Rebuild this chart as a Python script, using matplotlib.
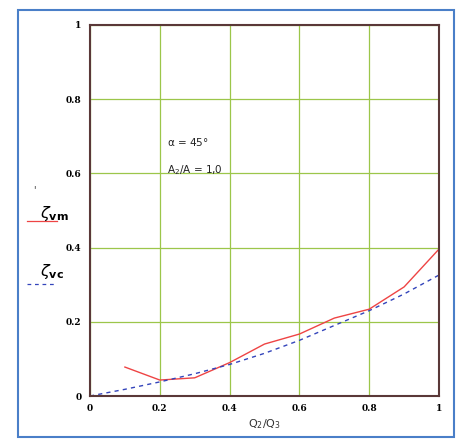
import matplotlib.pyplot as plt
from matplotlib.patches import Rectangle

# data
x_vm = [0.1, 0.2, 0.3, 0.4, 0.5, 0.6, 0.7, 0.8, 0.9, 1.0]
zeta_vm = [0.078, 0.043, 0.049, 0.09, 0.14, 0.167, 0.21, 0.234, 0.294, 0.396]
x_vc = [0.0, 0.1, 0.2, 0.3, 0.4, 0.5, 0.6, 0.7, 0.8, 0.9, 1.0]
zeta_vc = [0.0, 0.018, 0.038, 0.06, 0.085, 0.115, 0.15, 0.19, 0.23, 0.275, 0.326]
ticks = [0, 0.2, 0.4, 0.6, 0.8, 1]
tick_labels = ["0", "0.2", "0.4", "0.6", "0.8", "1"]

W, H = 459, 441
fig = plt.figure(figsize=(W / 100, H / 100), dpi=100)
ax = fig.add_axes([90 / W, 1 - 396 / H, 349 / W, 371 / H])

ax.plot(x_vm, zeta_vm, color="#ee4444", lw=1.0)
ax.plot(x_vc, zeta_vc, color="#3344bb", lw=1.0, ls=(0, (3, 3)))

ax.set_xlim(0, 1)
ax.set_ylim(0, 1)
ax.set_xticks(ticks)
ax.set_xticklabels(tick_labels)
ax.set_yticks(ticks)
ax.set_yticklabels(tick_labels)
ax.tick_params(length=0, pad=6, labelsize=6.5)
for lab in ax.get_xticklabels() + ax.get_yticklabels():
    lab.set_fontfamily("DejaVu Serif")
    lab.set_fontweight("bold")
ax.grid(True, color="#9cc64a", lw=0.9)
for s in ax.spines.values():
    s.set_color("#5a3838")
    s.set_linewidth(1.5)

ax.text(0.22, 0.675, r"$\mathrm{\alpha}$ = 45°", fontsize=7.5, color="#222222")
ax.text(0.22, 0.6, "A$_2$/A = 1,0", fontsize=7.5, color="#222222")
ax.set_xlabel("Q$_2$/Q$_3$", fontsize=8, color="#333333", labelpad=3)

# legend on the left, outside the axes
fig.text(33 / W, 1 - 193 / H, "'", fontsize=7, color="#333333")
fig.text(40 / W, 1 - 218 / H, r"$\zeta_{\mathbf{vm}}$", fontsize=11.5, family="serif")
fig.add_artist(plt.Line2D([27 / W, 57 / W], [1 - 221 / H, 1 - 221 / H], color="#ee4444", lw=0.9))
fig.text(40 / W, 1 - 276 / H, r"$\zeta_{\mathbf{vc}}$", fontsize=11.5, family="serif")
fig.add_artist(plt.Line2D([27 / W, 57 / W], [1 - 284 / H, 1 - 284 / H], color="#3344bb", lw=0.9, ls=(0, (3, 3))))

# outer blue frame
fig.add_artist(Rectangle((18 / W, 1 - 437 / H), 436 / W, 427 / H, transform=fig.transFigure,
                         fill=False, edgecolor="#4a7fc8", lw=1.5))

fig.savefig("out.png", dpi=100)
